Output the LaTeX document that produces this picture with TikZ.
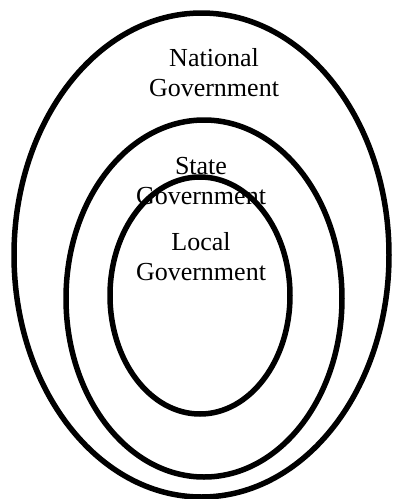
\documentclass[tikz,border=0pt]{standalone}
\usepackage{fontspec}
\setmainfont{Liberation Serif}
\usepackage{tikz}

\begin{document}
\begin{tikzpicture}[x=1pt, y=-1pt, line width=5.5pt,
    level/.style={align=center, inner sep=0pt, font=\fontsize{26}{30}\selectfont}]
    \useasboundingbox (0,0) rectangle (393,499);
    \node[level] (national) at (214,73) {National\\Government};
    \node[level] (state) at (201,181) {State\\Government};
    \node[level] (local) at (201,257) {Local\\Government};
    \draw (201.5,255) ellipse (187.5 and 242);
    \draw (204,298.5) ellipse (138 and 178.5);
    \draw (200,295.5) ellipse (90 and 118.5);
\end{tikzpicture}
\end{document}
